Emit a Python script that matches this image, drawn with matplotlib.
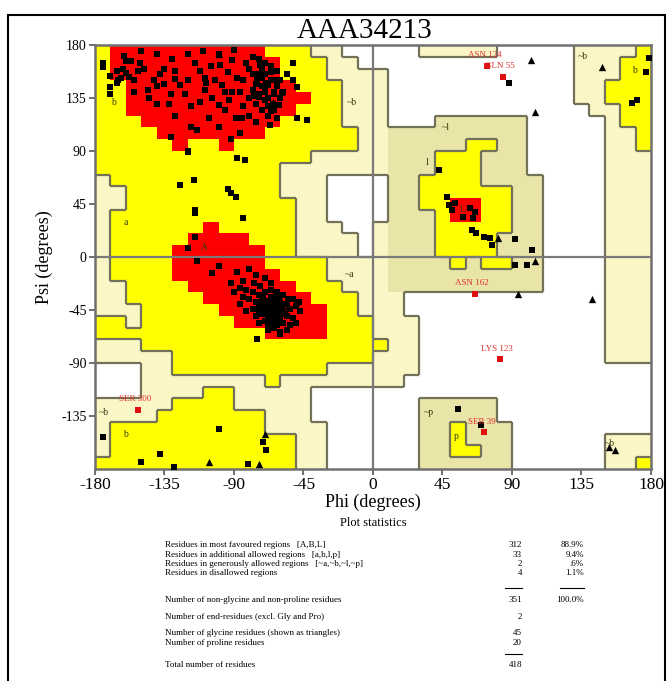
import matplotlib
matplotlib.use("Agg")
import matplotlib.pyplot as plt
import numpy as np
from matplotlib.colors import ListedColormap
from matplotlib.collections import LineCollection
from matplotlib.lines import Line2D
from matplotlib.patches import Rectangle

plt.rcParams['font.family'] = ['Liberation Serif', 'DejaVu Serif']

title = "AAA34213"

# Ramachandran region map, 10-degree cells, rows psi 180 -> -180, cols phi -180 -> 180
# R core, Y allowed, g/k generously allowed, . disallowed
region_rows = [
    "YRRRRRRRRRRYYYgg.....ggggg.....ggggY",
    "YRRRRRRRRRRRYYYgg..............gggYY",
    "YRRRRRRRRRRRYYYgggg............gggYY",
    "YYRRRRRRRRRRRYYYggg............ggYYY",
    "YYRRRRRRRRRRRRYYggg............ggYYY",
    "YYRRRRRRRRRRRYYYggg.............ggYY",
    "YYYRRRRRRRRRYYYYggg...kkkkkk.....gYY",
    "YYYYRRRRRRRYYYYYYggkkkkkkkkk.....ggY",
    "YYYYYRYYRYYYYYYYYggkkkkkYYkk.....ggY",
    "YYYYYYYYYYYYYYgggggkkkYYYkkk.....ggg",
    "YYYYYYYYYYYYgggggggkkkYYYkkk.....ggg",
    "gYYYYYYYYYYYggg....kkYYYYkkkk....ggg",
    "ggYYYYYYYYYYggg....kkYYYYYYkk....ggg",
    "ggYYYYYYYYYYYgg....kkYYRRYYkk....ggg",
    "gYYYYYYYYYYYYgg....kkkYRRYYkk....ggg",
    "gYYYYYYRYYYYYggg..gkkkYYYYYkk....ggg",
    "gYYYYYRRRRYYYgggg.gkkkYYYYkkk....ggg",
    "gYYYYRRRRRRYYgggg.gkkkYYYYkkk....ggg",
    "gYYYYRRRRRRYYYYggggkkkkYkYYkk....ggg",
    "gYYYYRRRRRRRYYYggggkkkkkkkkkk....ggg",
    "ggYYYYRRRRRRRYYYgggkkkkkkkkkk....ggg",
    "ggYYYYYRRRRRRRYYYggg.............ggg",
    "gggYYYYYRRRRRRRYYggg.............ggg",
    "YYgYYYYYYRRRRRRYYYggg............ggg",
    "YYYYYYYYYYYRRRRYYYggg............ggg",
    "gggYYYYYYYYYYYYYYYYgg............ggg",
    "gggggYYYYYYYYYYYYYggg............ggg",
    "...ggYYYYYYYYYYgggggg...............",
    "...ggggggggYgggggggg................",
    "...ggggYYggggg......................",
    "gggggYYYYggggg.......kkkkk..........",
    "ggggYYYYYYYggg.......kkkkk..........",
    "gYYYYYYYYYYgggg......kkYkkk.........",
    "gYYYYYYYYYYYYgg......kkYkkk......ggg",
    "gYYYYYYYYYYYYgg......kkYYkk......ggg",
    "YYYYYYYYYYYYYgg......kkkkkk......ggY",
]
region_codes = ['.', 'g', 'k', 'Y', 'R']
region_colors = ['#FFFFFF', '#FAF6C6', '#E9E4A8', '#FFFF00', '#FF0000']
region_level = {'.': 0, 'g': 1, 'k': 1, 'Y': 2, 'R': 3}

# residues (non-glycine), phi / psi in degrees
res_phi = [
    -175, -175, -170, -170, -166, -166, -162, -160, -158, -163, -155, -170, -161, -157,
    -151, -148, -145, -140, -138, -135, -131, -128, -132, -125, -122, -128, -128, -131,
    -120, -118, -114, -115, -112, -109, -105, -109, -104, -100, -98, -108, -99, -94, -91,
    -96, -89, -93, -88, -91,
    -80, -78, -75, -72, -70, -68, -65, -70, -66, -62, -74, -76, -72, -68, -64, -60, -58,
    -62, -66, -70, -74, -78, -82, -84, -86, -80, -78, -74, -69, -64, -60, -56, -62, -67,
    -84, -85, -80, -76, -52, -52, -49, -59, -49, -43,
    -72, -68, -64, -70, -76, -66, -72, -68, -74, -64, -70, -66, -61, -77, -73,
    -150, -140, -130, -120, -110, -100, -90, -140, -146, -118, -106, -86, -120, -135,
    -155, -100, -92, -165, -160, -152, -142, -112, -102, -96,
    -120, -88, -83, -116, -125, -94, -92, -89, -115, -115, -84, -115, -120,
    -114, -88, -84, -86, -80, -76, -70, -66,
    -82, -78, -74, -70, -66, -62, -58,
    -80, -76, -72, -68, -64, -60, -56, -52,
    -78, -74, -70, -66, -62, -58, -54, -50,
    -76, -72, -68, -64, -60, -56, -52,
    -74, -70, -66, -62, -58, -54,
    -68, -64, -60, -56,
    -72, -68, -64, -66, -62, -60, -70, -74, -58, -63, -67, -65, -61, -69, -71, -57, -55,
    -84, -86, -82, -48, -47, -50, -75, -60, -49, -73, -77, -90, -92, -100, -104,
    -69, -65, -61, -67, -63, -59, -71, -65, -62, -68,
    -175, -100, -138, -150, -129, -71, -69, -81,
    179, 177, 171, 168, 43, 48, 49, 51, 53, 63, 66, 58, 65, 64, 67, 72, 76, 77, 92,
    103, 92, 100, 55, 70, 88,
]
res_psi = [
    165, 161, 144, 138, 148, 158, 160, 156, 153, 152, 150, 154, 171, 166,
    165, 160, 135, 130, 155, 147, 138, 151, 130, 146, 138, 158, 120, 102,
    90, 110, 108, 165, 158, 152, 162, 142, 135, 129, 146, 148, 163, 157, 167,
    125, 118, 133, 152, 140,
    160, 155, 150, 145, 140, 135, 130, 155, 150, 145, 138, 130, 125, 120, 125, 135, 140,
    158, 162, 165, 168, 170, 165, 150, 140, 135, 142, 155, 148, 140, 150, 155, 118, 112,
    128, 118, 120, 115, 165, 150, 144, 139, 118, 116,
    152, 146, 138, 133, 147, 157, 160, 128, 136, 150, 143, 124, 129, 137, 163,
    175, 172, 168, 172, 175, 172, 176, 145, 142, 128, 118, 105, 150, 160,
    140, 110, 100, 150, 166, 158, 150, 132, 150, 140,
    89, 84, 82, 65, 61, 58, 54, 51, 40, 37, 33, 17, 8,
    -3, -13, -20, -26, -10, -15, -18, -22,
    -28, -30, -32, -30, -28, -30, -32,
    -36, -38, -36, -38, -36, -38, -40, -36,
    -44, -42, -44, -42, -44, -46, -44, -42,
    -50, -48, -50, -48, -52, -50, -52,
    -56, -54, -56, -58, -56, -58,
    -62, -60, -64, -62,
    -40, -46, -42, -34, -40, -46, -38, -46, -40, -52, -44, -39, -35, -41, -47, -48, -36,
    -34, -40, -46, -38, -46, -56, -70, -65, -39, -25, -22, -30, -22, -8, -14,
    -37, -43, -49, -51, -33, -43, -33, -47, -55, -59,
    -153, -146, -167, -174, -178, -157, -164, -176,
    169, 157, 133, 131, 74, 51, 44, 40, 46, 42, 38, 34, 33, 23, 20, 17, 16, 10, 15,
    6, -7, -7, -129, -143, 148,
]

# glycine residues (triangles)
gly_phi = [102, 105, 148, 81, 105, 94, 142, 153, 157, -106, -74, -70, -100, -65, -55]
gly_psi = [167, 123, 161, 16, -3, -31, -36, -161, -164, -174, -176, -150, 172, 132, -42]

# labelled residues outside favoured regions
lab_names = ["ASN 124", "GLN 55", "ASN 162", "LYS 123", "SER 300", "SER 39"]
lab_phi = [74, 84, 66, 82, -152, 72]
lab_psi = [162, 153, -31, -87, -130, -149]

# region letters
reg_text = ["b", "~b", "~b", "b", "a", "A", "~a", "l", "~l", "L", "~p", "p", "~b", "b", "~b"]
reg_phi = [-168, -14, 136, 169, -160, -109, -15, 35, 47, 58, 36, 54, 153, -160, -174]
reg_psi = [131, 131, 170, 158, 29, 8, -15, 80, 110, 40, -132, -152, -158, -151, -132]

ticks = [-180, -135, -90, -45, 0, 45, 90, 135, 180]

stat_labels = [
    "Residues in most favoured regions   [A,B,L]",
    "Residues in additional allowed regions   [a,b,l,p]",
    "Residues in generously allowed regions   [~a,~b,~l,~p]",
    "Residues in disallowed regions",
    "Number of non-glycine and non-proline residues",
    "Number of end-residues (excl. Gly and Pro)",
    "Number of glycine residues (shown as triangles)",
    "Number of proline residues",
    "Total number of residues",
]
stat_counts = ["312", "33", "2", "4", "351", "2", "45", "20", "418"]
stat_pcts = ["88.9%", "9.4%", ".6%", "1.1%", "100.0%", "", "", "", ""]

W, H = 671, 681
def fx(x):
    return x / W
def fy(y):
    return 1 - y / H

fig = plt.figure(figsize=(W / 100, H / 100), dpi=100)
ax = fig.add_axes([fx(95), fy(469), 556 / W, 424 / H])

grid = np.array([[region_codes.index(ch) for ch in row] for row in region_rows])
ax.imshow(grid, cmap=ListedColormap(region_colors), vmin=-0.5, vmax=4.5,
          extent=[-180, 180, -180, 180], origin='upper', interpolation='nearest',
          aspect='auto', zorder=0)

# boundary lines between region levels (excluding core)
lev = np.array([[region_level[ch] for ch in row] for row in region_rows])
segs = []
nr, nc = lev.shape
for r in range(nr):
    for c in range(nc):
        a = lev[r, c]
        if c + 1 < nc:
            b = lev[r, c + 1]
            if a != b and a != 3 and b != 3:
                x = -180 + 10 * (c + 1)
                segs.append([(x, 180 - 10 * r), (x, 170 - 10 * r)])
        if r + 1 < nr:
            b = lev[r + 1, c]
            if a != b and a != 3 and b != 3:
                y = 170 - 10 * r
                segs.append([(-180 + 10 * c, y), (-170 + 10 * c, y)])
ax.add_collection(LineCollection(segs, colors='#727258', linewidths=1.6, zorder=2))

ax.axhline(0, color='#7A7A7A', lw=1.6, zorder=2.5)
ax.axvline(0, color='#7A7A7A', lw=1.6, zorder=2.5)

for t, p, s in zip(reg_text, reg_phi, reg_psi):
    ax.text(p, s, t, fontsize=7, color='#3A3A10', ha='center', va='center', zorder=3)

ax.scatter(res_phi, res_psi, marker='s', s=24, c='black', linewidths=0, zorder=4)
ax.scatter(gly_phi, gly_psi, marker='^', s=28, c='black', linewidths=0, zorder=4)
ax.scatter(lab_phi, lab_psi, marker='s', s=20, c='#E01010', linewidths=0, zorder=5)
for n, p, s in zip(lab_names, lab_phi, lab_psi):
    ax.annotate(n, (p, s), xytext=(-2, 5), textcoords='offset points', ha='center',
                va='bottom', fontsize=6.5, color='#E03030', zorder=6)

ax.set_xlim(-180, 180)
ax.set_ylim(-180, 180)
ax.set_xticks(ticks)
ax.set_yticks(ticks[1:])
ax.set_xticklabels([str(t) for t in ticks], fontsize=12.5)
ax.set_yticklabels([str(t) for t in ticks[1:]], fontsize=10)
ax.tick_params(direction='out', length=4, width=1.2, color='#555555', pad=2)
for sp in ax.spines.values():
    sp.set_color('#707070')
    sp.set_linewidth(1.8)
ax.set_xlabel("Phi (degrees)", fontsize=13, labelpad=0)
ax.set_ylabel("Psi (degrees)", fontsize=13, labelpad=6)

fig.text(fx(365), fy(31), title, fontsize=21, ha='center', va='center')

# statistics block
fig.text(fx(373), fy(523), "Plot statistics", fontsize=9, ha='center', va='center')
row_y = [545, 555, 564, 573, 600, 617, 633, 643, 665]
for lab, cnt, pct, y in zip(stat_labels, stat_counts, stat_pcts, row_y):
    fig.text(fx(165), fy(y), lab, fontsize=6.5, ha='left', va='center')
    fig.text(fx(522), fy(y), cnt, fontsize=6.5, ha='right', va='center')
    if pct:
        fig.text(fx(584), fy(y), pct, fontsize=6.5, ha='right', va='center')
for x0, x1, y in [(505, 522, 588), (560, 584, 588), (505, 522, 654)]:
    fig.add_artist(Line2D([fx(x0), fx(x1)], [fy(y), fy(y)], color='black', lw=0.8,
                          transform=fig.transFigure))

fig.add_artist(Rectangle((fx(8), fy(690)), fx(665) - fx(8), fy(15) - fy(690),
                         fill=False, edgecolor='black', lw=1.5, transform=fig.transFigure,
                         clip_on=False))

fig.savefig("out.png", dpi=100)
